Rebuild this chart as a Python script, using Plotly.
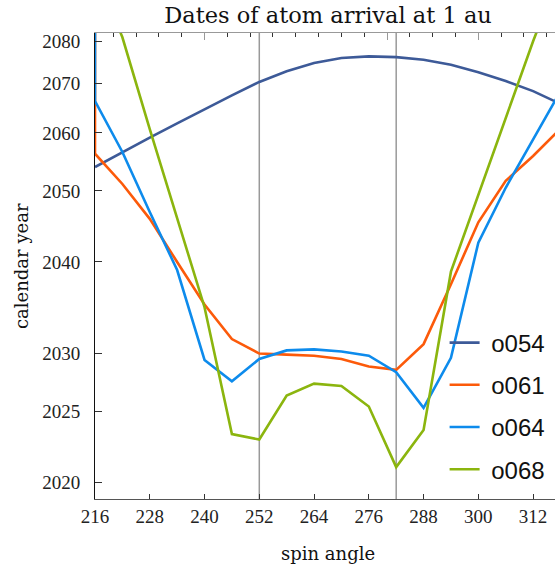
import math
import plotly.graph_objects as go

# ---- data ----
angles = [216, 222, 228, 234, 240, 246, 252, 258, 264, 270, 276, 282, 288, 294, 300, 306, 312, 318]

o054 = [2053.9, 2056.5, 2059.1, 2061.8, 2064.6, 2067.5, 2070.4, 2072.8, 2074.7, 2075.9,
        2076.3, 2076.1, 2075.5, 2074.3, 2072.6, 2070.6, 2068.4, 2065.7]
# o061 and o064 start with an off-scale value at the first angle (vertical lead-in)
o061_lead = 2150
o061 = [2056.2, 2051.1, 2045.8, 2040.0, 2035.0, 2031.4, 2030.0, 2029.9, 2029.8, 2029.5,
        2028.8, 2028.5, 2030.9, 2037.3, 2045.3, 2051.6, 2055.8, 2060.8]
o064_lead = 2150
o064 = [2066.3, 2056.5, 2046.8, 2039.0, 2029.4, 2027.5, 2029.5, 2030.3, 2030.4, 2030.2,
        2029.8, 2028.3, 2025.3, 2029.6, 2042.5, 2050.5, 2058.7, 2068.4]
o068 = [2100.0, 2081.0, 2060.7, 2045.8, 2034.7, 2023.3, 2022.9, 2026.3, 2027.3, 2027.1,
        2025.4, 2021.0, 2023.6, 2038.8, 2049.4, 2062.9, 2080.0, 2100.0]

series_names = ["o054", "o061", "o064", "o068"]
series_colors = ["#3d5a98", "#fc5a0a", "#0d8bec", "#8bb50e"]

x_ticks = [216, 228, 240, 252, 264, 276, 288, 300, 312]
y_tick_years = [2020, 2025, 2030, 2040, 2050, 2060, 2070, 2080]
marker_angles = [252, 282]

BASE = 2000  # y axis is logarithmic in (year - 2000)
year_lo, year_hi = 2019.0, 2082.1
x_lo, x_hi = 216, 316.8


def off(v):
    return [y - BASE for y in v]


fig = go.Figure()

traces = [
    (angles, o054),
    ([angles[0]] + angles, [o061_lead] + o061),
    ([angles[0]] + angles, [o064_lead] + o064),
    (angles, o068),
]
for (xs, ys), name, col in zip(traces, series_names, series_colors):
    fig.add_trace(go.Scatter(
        x=xs, y=off(ys), mode="lines", name="\u00a0" + name,
        line=dict(color=col, width=2.6),
        legendgroup=name,
    ))

# invisible trace to activate top axis
fig.add_trace(go.Scatter(x=[], y=[], xaxis="x2", showlegend=False))

for a in marker_angles:
    fig.add_shape(type="line", xref="x", yref="paper", x0=a, x1=a, y0=0, y1=1,
                  line=dict(color="#999999", width=1.5), layer="below")

serif_tick = dict(family="Liberation Serif", size=19, color="#222")

fig.update_layout(
    width=555, height=568,
    margin=dict(l=95, r=0, t=33, b=69),
    paper_bgcolor="white", plot_bgcolor="white",
    title=dict(text="Dates of atom arrival at 1 au",
               font=dict(family="DejaVu Serif", size=22.5, color="#111"),
               x=328 / 555, xref="container", xanchor="center",
               y=1 - 15 / 568, yref="container", yanchor="middle"),
    xaxis=dict(range=[x_lo, x_hi], tickvals=x_ticks, ticks="inside", ticklen=5,
               tickcolor="#333", showline=True, linecolor="#555", linewidth=1,
               showgrid=False, zeroline=False, tickfont=serif_tick),
    xaxis2=dict(range=[x_lo, x_hi], overlaying="x", side="top", anchor="y",
                showline=True, linecolor="#999", linewidth=1,
                tickvals=[240, 280, 300], ticks="inside", ticklen=7, tickcolor="#999",
                showticklabels=False, showgrid=False, zeroline=False,
                minor=dict(tick0=0, dtick=5, ticks="inside", ticklen=4, tickcolor="#333")),
    yaxis=dict(type="log", range=[math.log10(year_lo - BASE), math.log10(year_hi - BASE)],
               tickvals=[y - BASE for y in y_tick_years],
               ticktext=[str(y) for y in y_tick_years],
               ticks="inside", ticklen=7, tickcolor="#333",
               showline=True, linecolor="#111", linewidth=1,
               showgrid=False, zeroline=False, tickfont=serif_tick,
               ticklabelstandoff=10),
    legend=dict(x=0.76, xanchor="left", y=0.383, yanchor="top",
                font=dict(family="Liberation Sans", size=24, color="#111"),
                bgcolor="rgba(0,0,0,0)", tracegroupgap=8, itemwidth=30),
    showlegend=True,
    annotations=[
        dict(text="spin angle", xref="paper", yref="paper", x=(328 - 95) / 460,
             y=(499 - 553) / 466, xanchor="center", yanchor="middle", showarrow=False,
             font=dict(family="DejaVu Serif", size=18, color="#111")),
        dict(text="calendar year", xref="paper", yref="paper", x=(21 - 95) / 460,
             y=0.5, xanchor="center", yanchor="middle", showarrow=False, textangle=-90,
             font=dict(family="DejaVu Serif", size=18, color="#111")),
    ],
)

fig.write_html("out.html", config={"displayModeBar": False},
               post_script="document.body.style.margin='0';document.body.style.overflow='hidden';")
